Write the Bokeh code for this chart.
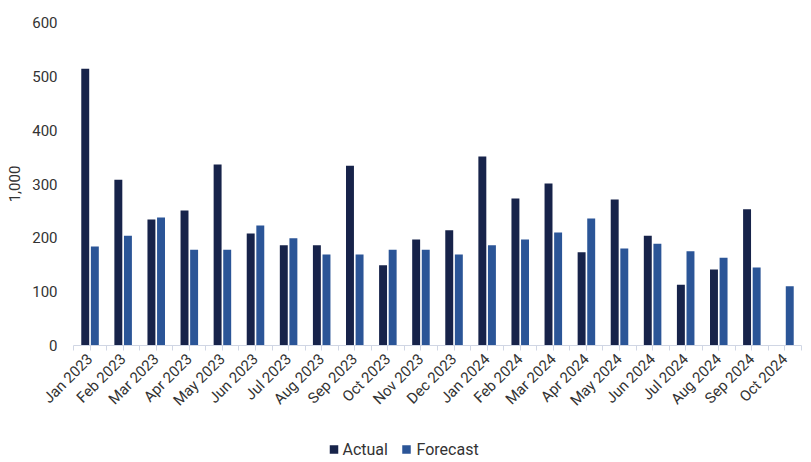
from bokeh.plotting import figure
from bokeh.models import FixedTicker, Range1d
from bokeh.core.properties import value
from bokeh.layouts import column
from bokeh.embed import file_html
from bokeh.resources import INLINE
import math

months = ["Jan 2023", "Feb 2023", "Mar 2023", "Apr 2023", "May 2023", "Jun 2023",
          "Jul 2023", "Aug 2023", "Sep 2023", "Oct 2023", "Nov 2023", "Dec 2023",
          "Jan 2024", "Feb 2024", "Mar 2024", "Apr 2024", "May 2024", "Jun 2024",
          "Jul 2024", "Aug 2024", "Sep 2024", "Oct 2024"]
actual = [514, 308, 234, 251, 336, 208, 186, 186, 334, 149, 197, 214,
          351, 273, 301, 173, 271, 204, 113, 141, 253, None]
forecast = [184, 204, 238, 178, 178, 223, 199, 169, 169, 178, 178, 169,
            186, 197, 210, 236, 180, 189, 175, 163, 145, 110]
y_ticks = [0, 100, 200, 300, 400, 500, 600]
series_names = ["Actual", "Forecast"]

TEXT = "#333333"
FONT = "Roboto"
C_ACT = "#17234a"
C_FC = "#2b5597"
series_colors = [C_ACT, C_FC]

idx = list(range(len(months)))
a_x = [i - 0.145 for i, v in zip(idx, actual) if v is not None]
a_y = [v for v in actual if v is not None]
f_x = [i + 0.145 for i in idx]

p = figure(width=811, height=432, output_backend="svg", toolbar_location=None,
           x_range=Range1d(-0.5, len(months) - 0.5), y_range=Range1d(0, 600),
           min_border_left=73, min_border_right=10, min_border_top=22, min_border_bottom=87)
p.outline_line_color = None
p.grid.grid_line_color = None

p.vbar(x=a_x, top=a_y, width=0.24, fill_color=C_ACT, line_color=None)
p.vbar(x=f_x, top=forecast, width=0.24, fill_color=C_FC, line_color=None)

# x axis
p.xaxis.ticker = FixedTicker(ticks=idx, minor_ticks=[i - 0.5 for i in range(len(months) + 1)])
p.xaxis.major_label_overrides = {i: m for i, m in enumerate(months)}
p.xaxis.major_label_orientation = math.pi / 4
p.xaxis.axis_line_color = "#d0d6e4"
p.xaxis.major_tick_line_color = "#d0d6e4"
p.xaxis.minor_tick_line_color = "#d0d6e4"
p.xaxis.major_tick_in = 0
p.xaxis.major_tick_out = 5
p.xaxis.minor_tick_in = 0
p.xaxis.minor_tick_out = 5
p.xaxis.major_label_standoff = 6
p.xaxis.major_label_text_font = FONT
p.xaxis.major_label_text_font_size = "15px"
p.xaxis.major_label_text_color = TEXT

# y axis
p.yaxis.ticker = FixedTicker(ticks=y_ticks)
p.yaxis.axis_line_color = None
p.yaxis.major_tick_line_color = None
p.yaxis.minor_tick_line_color = None
p.yaxis.major_tick_out = 0
p.yaxis.major_tick_in = 0
p.yaxis.major_label_standoff = 16
p.yaxis.major_label_text_font = FONT
p.yaxis.major_label_text_font_size = "15px"
p.yaxis.major_label_text_color = TEXT
p.yaxis.axis_label = "1,000"
p.yaxis.axis_label_text_font = FONT
p.yaxis.axis_label_text_font_style = "normal"
p.yaxis.axis_label_text_font_size = "15px"
p.yaxis.axis_label_text_color = TEXT
p.yaxis.axis_label_standoff = 9

# legend strip: its frame is aligned with the main frame (73..801 px), so 1 unit = 1 px
lf = figure(width=811, height=30, output_backend="svg", toolbar_location=None,
            x_range=Range1d(73, 801), y_range=Range1d(0, 30),
            x_axis_location=None, y_axis_location=None,
            min_border=0)
lf.grid.grid_line_color = None
lf.outline_line_color = None
swatch_x = [333.5, 406]
label_x = [342, 416]
lf.scatter(x=swatch_x, y=[13, 13], marker="square", size=8.5,
           fill_color=series_colors, line_color=None)
lf.text(x=label_x, y=[13, 13], text=series_names, text_font=value(FONT),
        text_font_size="16px", text_color=TEXT, text_baseline="middle", text_align="left")

open("out.html", "w").write(file_html(column(p, lf), INLINE))
